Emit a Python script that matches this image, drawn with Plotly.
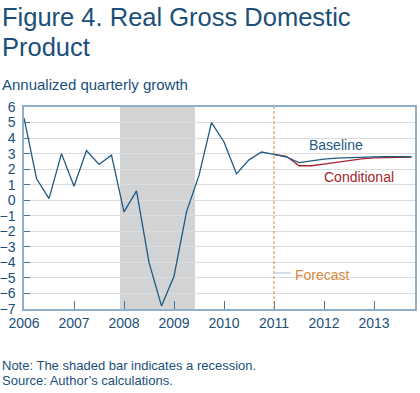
import plotly.graph_objects as go

# ---- data ----
actual_x = [2006 + i * 0.25 for i in range(21)]  # 2006Q1 .. 2011Q1
actual_y = [5.3, 1.4, 0.1, 3.0, 0.9, 3.2, 2.3, 2.9, -0.75, 0.6, -4.0, -6.8,
            -4.9, -0.75, 1.6, 5.0, 3.75, 1.7, 2.6, 3.1, 2.95]
fc_x = [2011 + i * 0.25 for i in range(12)]  # 2011Q1 .. 2013Q4
baseline_y = [2.95, 2.78, 2.42, 2.55, 2.65, 2.71, 2.75, 2.77, 2.79, 2.8, 2.8, 2.8]
conditional_y = [2.95, 2.83, 2.22, 2.22, 2.33, 2.45, 2.57, 2.66, 2.72, 2.75, 2.77, 2.77]
recession = [2007.92, 2009.42]
forecast_start = 2011
year_ticks = [2006, 2007, 2008, 2009, 2010, 2011, 2012, 2013]
y_ticks = list(range(-7, 7))

BLUE = "#1f5a85"
RED = "#a3262d"
TXT = "#1b4f7a"
ORANGE = "#d9893a"
FONT = "Liberation Sans, Arial, sans-serif"

fig = go.Figure()

fig.add_vrect(x0=recession[0], x1=recession[1], fillcolor="#d1d3d4",
              line_width=0, layer="below")
fig.add_vline(x=forecast_start, line=dict(color=ORANGE, width=1, dash="3px,2px"))

fig.add_trace(go.Scatter(x=fc_x, y=conditional_y, mode="lines",
                         line=dict(color=RED, width=1.3), showlegend=False))
fig.add_trace(go.Scatter(x=fc_x, y=baseline_y, mode="lines",
                         line=dict(color=BLUE, width=1.3), showlegend=False))
fig.add_trace(go.Scatter(x=actual_x, y=actual_y, mode="lines",
                         line=dict(color=BLUE, width=1.3), showlegend=False))

fig.add_annotation(x=2011.65, y=3.55, text="Baseline", showarrow=False,
                   xanchor="left", yanchor="middle",
                   font=dict(family=FONT, size=14, color=BLUE))
fig.add_annotation(x=2011.95, y=1.5, text="Conditional", showarrow=False,
                   xanchor="left", yanchor="middle",
                   font=dict(family=FONT, size=14, color=RED))
fig.add_annotation(x=2011.38, y=-4.78, text="Forecast", showarrow=False,
                   xanchor="left", yanchor="middle",
                   font=dict(family=FONT, size=14, color=ORANGE))
fig.add_shape(type="line", x0=2011.02, x1=2011.34, y0=-4.68, y1=-4.68,
              line=dict(color="#a9c0d3", width=1))

def paper_text(text, yshift, size, y=1.0):
    fig.add_annotation(xref="paper", yref="paper", x=0, xshift=-24, y=y,
                       yshift=yshift, text=text, showarrow=False,
                       xanchor="left", yanchor="middle", align="left",
                       font=dict(family=FONT, size=size, color=TXT))

paper_text("Figure 4. Real Gross Domestic", 90, 25.5)
paper_text("Product", 60, 25.5)
paper_text("Annualized quarterly growth", 23, 15)
paper_text("Note: The shaded bar indicates a recession.", -56, 13, y=0)
paper_text("Source: Author\u2019s calculations.", -71, 13, y=0)

fig.update_layout(
    width=420, height=393,
    margin=dict(l=24, r=5, t=107, b=84, autoexpand=False),
    plot_bgcolor="white", paper_bgcolor="white",
    font=dict(family=FONT, size=13, color=TXT),
    xaxis=dict(range=[2006, 2013.82], tickvals=year_ticks,
               ticktext=[str(y) for y in year_ticks],
               ticks="inside", ticklen=8, tickcolor="#4a7599",
               showgrid=False, zeroline=False, automargin=False,
               showline=True, linecolor="#8fb0c8", linewidth=1.5, mirror=True,
               tickfont=dict(family=FONT, size=14, color=TXT)),
    yaxis=dict(range=[-7, 6], tickvals=y_ticks,
               ticktext=[str(v).replace("-", "\u2212") for v in y_ticks],
               ticks="inside", ticklen=6, tickcolor="#4a7599",
               showgrid=True, gridcolor="#dcdcdc", gridwidth=1, zeroline=False,
               showline=True, linecolor="#8fb0c8", linewidth=1.5, mirror=True,
               ticklabelstandoff=4, automargin=False,
               tickfont=dict(family=FONT, size=14, color=TXT)),
)

fig.write_html("out.html",
               config={"displayModeBar": False},
               post_script="document.body.style.margin='0';"
                           "document.body.style.overflow='hidden';")
